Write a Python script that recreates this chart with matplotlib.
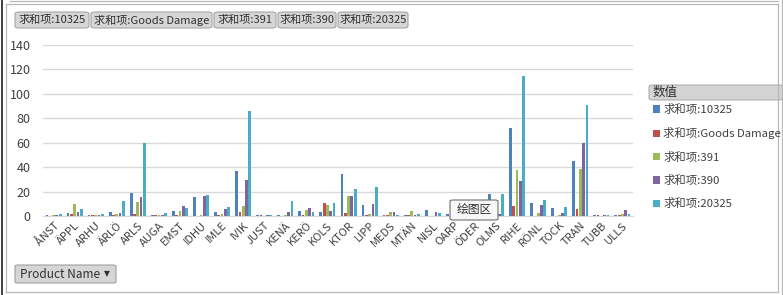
import numpy as np
import matplotlib
matplotlib.use('Agg')
import matplotlib.pyplot as plt
from matplotlib.patches import FancyBboxPatch
from matplotlib.lines import Line2D

plt.rcParams['font.family'] = ['Noto Sans CJK SC', 'DejaVu Sans']

products = ['ÅNST', 'ÄPPL', 'ARHU', 'ÄRLÖ', 'ARLS', 'AUGA', 'EMST', 'IDHU', 'IMLE', 'IVIK',
            'JUST', 'KENÄ', 'KERÖ', 'KOLS', 'KTOR', 'LIPP', 'MEDS', 'MTÄN', 'NISL', 'OARP',
            'ÖDER', 'OLMS', 'RIHE', 'RÖNL', 'TOCK', 'TRAN', 'TUBB', 'ULLS']
series_names = ['求和项:10325', '求和项:Goods Damage', '求和项:391', '求和项:390', '求和项:20325']
colors = ['#4F81BD', '#C0504D', '#9BBB59', '#8064A2', '#4BACC6']

s10325 = [0.5, 2.5, 0.5, 3, 18.5, 0.5, 4, 15.5, 3, 36.5, 0.5, 0.5, 4, 3, 34.5, 9, 1, 1, 5, 1.5,
          1, 18, 72, 10.5, 6.5, 45, 0.5, 0.5]
goods_damage = [0, 1.5, 0.5, 1, 1.5, 0.5, 1, 0, 1, 3, 0.5, 0, 1, 10.5, 2.5, 1, 1, 1, 0, 0,
                0, 1, 8, 0, 0, 5.5, 0.5, 0.5]
s391 = [1, 10, 0.5, 1.5, 11.5, 0.5, 4, 1, 1.5, 8, 0, 1, 5, 9, 16.5, 1.5, 3.5, 4, 0, 0.5,
        0.5, 1, 37.5, 2.5, 1, 38.5, 0, 1.5]
s390 = [1, 3, 0.5, 2.5, 15.5, 0.5, 8, 16.5, 5.5, 29.5, 0.5, 3, 6.5, 4, 16.5, 10, 3.5, 1, 3.5, 1,
        0.5, 1.5, 28.5, 9, 2.5, 60, 0.5, 5]
s20325 = [1.5, 6, 2, 12, 59.5, 2.5, 6.5, 17, 7, 86, 0.5, 12, 3.5, 10.5, 22, 24, 1, 1.5, 2.5, 1,
          0.5, 18, 115, 13, 7.5, 91, 0.5, 1.5]
series = [s10325, goods_damage, s391, s390, s20325]
yticks = [0, 20, 40, 60, 80, 100, 120, 140]

W, H = 783, 295
fig = plt.figure(figsize=(W / 100, H / 100), dpi=100)

def fx(px):
    return px / W

def fy(py):
    return 1 - py / H

ax = fig.add_axes([fx(43), fy(216), fx(633) - fx(43), fy(45) - fy(216)])
x = np.arange(len(products))
step = 0.157
for i, (vals, c) in enumerate(zip(series, colors)):
    ax.bar(x + (i - 2) * step, vals, width=0.13, color=c, label=series_names[i], zorder=3)

ax.set_xlim(-0.5, len(products) - 0.5)
ax.set_ylim(0, 140)
ax.set_yticks(yticks)
ax.yaxis.grid(True, color='#d9d9d9', linewidth=1, zorder=0)
ax.set_axisbelow(True)
for sp in ['top', 'right', 'left']:
    ax.spines[sp].set_visible(False)
ax.spines['bottom'].set_color('#d9d9d9')
ax.tick_params(axis='y', length=0, labelsize=9, labelcolor='#404040', pad=9)
ax.tick_params(axis='x', length=0, labelsize=8, labelcolor='#404040', pad=3)
ax.set_xticks(x)
ax.set_xticklabels(products, rotation=45, ha='right', rotation_mode='anchor')

# legend
leg = fig.legend(loc='upper left', bbox_to_anchor=(fx(653), fy(104)), frameon=False,
                 fontsize=8.2, handlelength=0.6, handleheight=0.6, handletextpad=0.3,
                 labelspacing=1.08, borderaxespad=0, borderpad=0)
for t in leg.get_texts():
    t.set_color('#404040')
fig.patches.append(FancyBboxPatch((fx(649), fy(100)), fx(783) - fx(649), fy(85) - fy(100),
                                  boxstyle='round,pad=0,rounding_size=0.006',
                                  transform=fig.transFigure, facecolor='#d4d4d4',
                                  edgecolor='#b0b0b0', linewidth=0.8))
fig.text(fx(653), fy(92.5), '数值', fontsize=9, color='#303030', va='center', ha='left')

# field buttons
btns = [(15, 89), (91, 212), (214, 276), (278, 336), (338, 408)]
for (x0, x1), name in zip(btns, series_names):
    fig.patches.append(FancyBboxPatch((fx(x0), fy(28)), fx(x1) - fx(x0), fy(12) - fy(28),
                                      boxstyle='round,pad=0,rounding_size=0.006',
                                      transform=fig.transFigure, facecolor='#d6d6d6',
                                      edgecolor='#a6a6a6', linewidth=0.8))
    fig.text(fx((x0 + x1) / 2), fy(20), name, fontsize=8, color='#303030',
             ha='center', va='center')

# Product Name button
fig.patches.append(FancyBboxPatch((fx(15), fy(283)), fx(116) - fx(15), fy(265) - fy(283),
                                  boxstyle='round,pad=0,rounding_size=0.004',
                                  transform=fig.transFigure, facecolor='#d6d6d6',
                                  edgecolor='#a0a0a0', linewidth=0.8))
fig.text(fx(20), fy(274), 'Product Name', fontsize=8.5, color='#303030', ha='left', va='center')
fig.text(fx(107), fy(274), '▼', fontsize=5.5, color='#303030', ha='center', va='center',
         family='DejaVu Sans')

# plot area tooltip
fig.patches.append(FancyBboxPatch((fx(450), fy(220)), fx(498) - fx(450), fy(200) - fy(220),
                                  boxstyle='round,pad=0,rounding_size=0.004',
                                  transform=fig.transFigure, facecolor='#f7f7f9',
                                  edgecolor='#707070', linewidth=0.8, zorder=5))
fig.text(fx(474), fy(210), '绘图区', fontsize=8.5, color='#303030', ha='center', va='center',
         zorder=6)

# chart frame
frame = [((6, 6), (4, 292)), ((6, 778), (4, 4)), ((778, 778), (4, 292)), ((6, 778), (292, 292)),
         ((782, 782), (0, 295)), ((10, 778), (1, 1))]
for xs, ys in frame:
    fig.add_artist(Line2D([fx(v) for v in xs], [fy(v) for v in ys], color='#b8b8b8',
                          linewidth=0.9, transform=fig.transFigure))
fig.add_artist(Line2D([fx(1.5), fx(1.5)], [fy(0), fy(295)], color='#202020', linewidth=1.2,
                      transform=fig.transFigure))

fig.savefig('out.png', dpi=100, facecolor='white')
